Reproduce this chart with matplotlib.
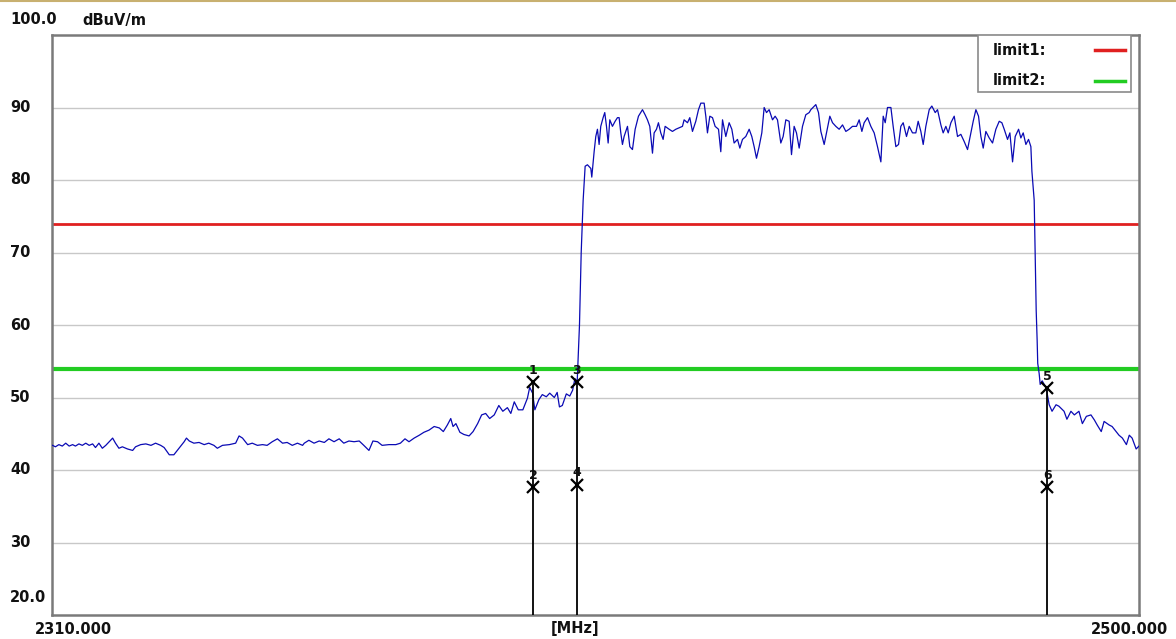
import matplotlib
matplotlib.use("Agg")
import matplotlib.pyplot as plt
import matplotlib.transforms as mtransforms
from matplotlib.patches import Rectangle
from matplotlib.lines import Line2D

# ── trace (MHz, dBuV/m) ────────────────────────────────────────────────────
low_f = [2310.1, 2310.6, 2311.2, 2311.8, 2312.4, 2313.0, 2313.6, 2314.1, 2314.7, 2315.3,
         2315.9, 2316.5, 2317.1, 2317.6, 2318.2, 2318.8, 2319.4, 2320.0, 2320.6, 2321.1,
         2321.7, 2322.3, 2323.2, 2324.1, 2324.6, 2325.5, 2326.4, 2327.3, 2328.1, 2329.0,
         2329.6, 2330.5, 2331.3, 2332.2, 2333.1, 2333.5, 2334.0, 2334.8, 2335.7, 2336.6,
         2337.4, 2338.3, 2338.9, 2339.8, 2341.0, 2342.1, 2342.7, 2343.3, 2344.2, 2345.0,
         2345.9, 2346.8, 2347.6, 2348.5, 2349.4, 2350.3, 2351.1, 2352.0, 2352.9, 2353.8]
low_v = [43.4, 43.2, 43.5, 43.3, 43.7, 43.3, 43.5, 43.3, 43.6, 43.4,
         43.7, 43.4, 43.6, 43.1, 43.7, 43.0, 43.4, 43.9, 44.4, 43.7,
         43.0, 43.2, 42.9, 42.7, 43.2, 43.5, 43.6, 43.4, 43.7, 43.4,
         43.1, 42.1, 42.1, 43.0, 43.9, 44.4, 44.0, 43.7, 43.8, 43.5,
         43.7, 43.4, 43.0, 43.4, 43.5, 43.7, 44.7, 44.4, 43.5, 43.7,
         43.4, 43.5, 43.4, 43.9, 44.3, 43.7, 43.8, 43.4, 43.7, 43.4]

mid_f = [2354.1, 2354.9, 2355.8, 2356.7, 2357.6, 2358.4, 2359.3, 2360.2, 2361.0, 2361.9,
         2362.8, 2363.7, 2364.5, 2365.4, 2366.1, 2366.9, 2367.7, 2368.9, 2370.1, 2370.9,
         2371.7, 2372.4, 2373.3, 2374.2, 2375.0, 2375.9, 2376.8, 2377.7, 2378.4, 2379.1,
         2379.7, 2380.1, 2380.6, 2381.3, 2382.0, 2382.9, 2383.6, 2384.4, 2385.1, 2385.8,
         2386.5, 2387.3, 2388.1, 2388.8, 2389.6, 2390.2, 2390.8, 2391.5, 2392.3, 2393.1,
         2393.5, 2394.0, 2394.4, 2395.1, 2395.7, 2396.4, 2397.0, 2397.8, 2398.3, 2398.7,
         2399.2, 2399.9, 2400.5, 2401.0, 2401.4, 2401.8, 2402.2, 2402.5]
mid_v = [43.7, 44.1, 43.7, 44.0, 43.8, 44.3, 43.9, 44.3, 43.7, 44.0,
         43.9, 44.0, 43.4, 42.7, 44.0, 43.9, 43.4, 43.5, 43.5, 43.7,
         44.3, 43.9, 44.4, 44.8, 45.2, 45.5, 46.0, 45.8, 45.3, 46.2,
         47.1, 46.0, 46.4, 45.2, 44.9, 44.7, 45.3, 46.4, 47.6, 47.8,
         47.1, 47.6, 48.9, 48.1, 48.6, 47.8, 49.4, 48.3, 48.3, 49.9,
         51.4, 50.6, 48.3, 49.7, 50.4, 50.1, 50.6, 50.0, 50.7, 48.7,
         48.9, 50.5, 50.2, 51.0, 52.6, 52.2, 60.0, 70.0]

band_f = [2402.84, 2403.19, 2403.59, 2404.18, 2404.35, 2404.76, 2405.05, 2405.34, 2405.63, 2405.92,
          2406.33, 2406.62, 2406.92, 2407.21, 2407.50, 2407.96, 2408.43, 2408.84, 2409.13, 2409.42,
          2409.71, 2410.00, 2410.59, 2411.00, 2411.46, 2411.93, 2412.51, 2413.21, 2413.67, 2414.08,
          2414.49, 2414.96, 2415.25, 2415.66, 2416.00, 2416.41, 2416.82, 2417.17, 2417.87, 2418.45,
          2419.04, 2419.62, 2420.20, 2420.49, 2421.08, 2421.48, 2421.95, 2422.53, 2423.00, 2423.41,
          2423.99, 2424.28, 2424.57, 2424.98, 2425.45, 2425.91, 2426.50, 2426.90, 2427.20, 2427.78,
          2428.36, 2428.83, 2429.23, 2429.82, 2430.23, 2430.69, 2431.27, 2431.86, 2432.32, 2432.73,
          2433.14, 2433.60, 2434.07, 2434.48, 2434.89, 2435.35, 2435.94, 2436.40, 2436.81, 2437.39,
          2437.80, 2438.27, 2438.85, 2439.26, 2439.72, 2440.13, 2440.60, 2441.18, 2441.76, 2442.35,
          2442.64, 2443.51, 2443.98, 2444.39, 2444.97, 2445.38, 2445.96, 2446.43, 2447.01, 2447.59,
          2448.18, 2448.76, 2449.34, 2449.92, 2450.62, 2451.09, 2451.56, 2451.96, 2452.55, 2453.13,
          2453.71, 2454.29, 2454.88, 2455.29, 2455.64, 2456.04, 2456.63, 2457.03, 2457.50, 2457.97,
          2458.37, 2458.78, 2459.36, 2459.83, 2460.41, 2460.99, 2461.40, 2461.87, 2462.28, 2462.74,
          2463.33, 2463.79, 2464.38, 2464.78, 2465.37, 2465.77, 2466.24, 2466.65, 2467.12, 2467.70,
          2468.28, 2468.86, 2469.45, 2470.03, 2470.61, 2471.02, 2471.49, 2471.95, 2472.36, 2472.77,
          2473.23, 2473.82, 2474.40, 2474.98, 2475.57, 2476.03, 2476.44, 2477.02, 2477.43, 2477.90,
          2478.36, 2478.95, 2479.35, 2479.76, 2480.23, 2480.69, 2481.10, 2481.28, 2481.68]
band_v = [77.2, 81.9, 82.1, 81.6, 80.4, 83.9, 86.0, 87.0, 84.9, 87.4,
          88.6, 89.3, 87.4, 85.1, 88.3, 87.4, 88.1, 88.6, 88.6, 86.5,
          84.9, 86.0, 87.4, 84.6, 84.2, 87.0, 88.8, 89.7, 89.0, 88.3,
          87.4, 83.7, 86.5, 87.0, 87.9, 86.5, 85.6, 87.4, 87.0, 86.7,
          87.0, 87.2, 87.4, 88.3, 87.9, 88.6, 86.7, 88.1, 89.7, 90.6,
          90.6, 88.8, 86.5, 88.8, 88.6, 87.4, 87.0, 83.9, 88.3, 86.0,
          87.9, 87.0, 85.1, 85.6, 84.4, 85.6, 86.0, 87.0, 86.0, 84.6,
          83.0, 84.6, 86.5, 90.0, 89.3, 89.7, 88.3, 88.8, 88.3, 85.1,
          86.0, 88.3, 88.1, 83.5, 87.4, 86.5, 84.4, 87.4, 89.0, 89.3,
          89.7, 90.4, 89.3, 86.7, 84.9, 86.5, 88.8, 87.9, 87.4, 87.0,
          87.6, 86.7, 87.0, 87.4, 87.4, 88.3, 86.7, 87.9, 88.6, 87.4,
          86.5, 84.6, 82.5, 88.8, 87.9, 90.0, 90.0, 87.4, 84.6, 84.9,
          87.4, 87.9, 86.0, 87.4, 86.5, 86.5, 88.1, 86.7, 84.9, 87.4,
          89.7, 90.2, 89.3, 89.7, 87.6, 86.5, 87.4, 86.5, 87.9, 88.8,
          86.0, 86.3, 85.3, 84.2, 86.5, 88.1, 89.7, 88.8, 86.0, 84.4,
          86.7, 85.8, 85.1, 87.0, 88.1, 87.9, 87.0, 85.6, 86.5, 82.5,
          86.0, 87.0, 85.8, 86.5, 84.9, 85.6, 84.6, 81.2, 77.2]

high_f = [2481.85, 2482.03, 2482.20, 2482.30, 2482.55, 2482.73, 2483.08, 2483.78, 2484.30, 2484.80,
          2485.50, 2486.00, 2486.90, 2487.40, 2488.10, 2488.70, 2489.50, 2490.10, 2490.80, 2491.60,
          2492.20, 2492.70, 2493.40, 2493.90, 2494.80, 2495.30, 2496.00, 2496.50, 2497.10, 2497.80,
          2498.30, 2498.80, 2499.50, 2500.00]
high_v = [70.0, 62.0, 57.8, 54.7, 53.3, 51.8, 52.3, 51.3, 49.0, 48.1,
          49.0, 48.8, 48.1, 47.0, 48.1, 47.6, 48.1, 46.4, 47.4, 47.6,
          46.9, 46.2, 45.3, 46.7, 46.2, 46.0, 45.3, 44.8, 44.4, 43.5,
          44.8, 44.4, 42.9, 43.3]

# limits and markers
limit1 = 74.0
limit2 = 54.0
marker_no = ["1", "2", "3", "4", "5", "6"]
marker_f = [2394.1, 2394.1, 2401.7, 2401.7, 2484.0, 2484.0]
marker_v = [52.1, 37.6, 52.1, 38.0, 51.3, 37.6]

FONT = dict(fontsize=10.5, fontweight="bold", color="#111111", family="DejaVu Sans")
MFONT = dict(fontsize=9, fontweight="bold", color="#111111", family="DejaVu Sans")

freq = low_f + mid_f + band_f + high_f
level = low_v + mid_v + band_v + high_v

fig = plt.figure(figsize=(11.76, 6.39), dpi=100)
fig.patch.set_facecolor("white")
ax = fig.add_axes([52/1176, 1-615/639, 1087/1176, 580/639])
ax.set_xlim(2310, 2500); ax.set_ylim(20, 100)
ax.set_xticks([]); ax.set_yticks([])
for s in ax.spines.values():
    s.set_color("#7a7a7a"); s.set_linewidth(1.8)

for g in range(30, 100, 10):
    ax.axhline(g, color="#c8c8c8", linewidth=1, zorder=1)

ax.axhline(limit1, color="#e02020", linewidth=2, zorder=2)
ax.axhline(limit2, color="#22cc22", linewidth=3, zorder=2)

ax.plot(freq, level, color="#0a0ab4", linewidth=0.9, zorder=3)

# marker drop lines + crosses
for i in range(0, len(marker_f), 2):
    ax.plot([marker_f[i], marker_f[i]], [20, marker_v[i]], color="black", linewidth=1.3, zorder=4)
for n, f, v in zip(marker_no, marker_f, marker_v):
    ax.plot(f, v, marker="x", color="black", markersize=8, markeredgewidth=1.6, zorder=5)
    ax.annotate(n, (f, v), xytext=(0, 4), textcoords="offset points", ha="center", va="bottom",
                zorder=6, **MFONT)

# legend box
ax.add_patch(Rectangle((0.852, 0.9017), 0.1406, 0.0983, transform=ax.transAxes,
                       facecolor="white", edgecolor="#8a8a8a", linewidth=1.2, zorder=7))
for lab, yy, c in [("limit1:", 0.974, "#e02020"), ("limit2:", 0.9207, "#22cc22")]:
    ax.text(0.8657, yy, lab, transform=ax.transAxes, ha="left", va="center", zorder=8, **FONT)
    ax.plot([0.9595, 0.9871], [yy, yy], transform=ax.transAxes, color=c, linewidth=2.5, zorder=8)

# y labels, left aligned at the figure edge
tr = mtransforms.blended_transform_factory(fig.transFigure, ax.transData)
for g in range(30, 100, 10):
    ax.text(10/1176, g, str(g), transform=tr, ha="left", va="center", clip_on=False, **FONT)
fig.text(10/1176, 1-20/639, "100.0", ha="left", va="center", **FONT)
fig.text(82/1176, 1-20/639, "dBuV/m", ha="left", va="center", **FONT)
fig.text(10/1176, 1-598/639, "20.0", ha="left", va="center", **FONT)

fig.text(35/1176, 1-629/639, "2310.000", ha="left", va="center", **FONT)
fig.text(575/1176, 1-629/639, "[MHz]", ha="center", va="center", **FONT)
fig.text(1168/1176, 1-629/639, "2500.000", ha="right", va="center", **FONT)

# thin tan strip along the very top
fig.add_artist(Line2D([0, 1], [1-1/639, 1-1/639], transform=fig.transFigure, color="#c8b070", linewidth=1.5))

fig.savefig("out.png", dpi=100)
